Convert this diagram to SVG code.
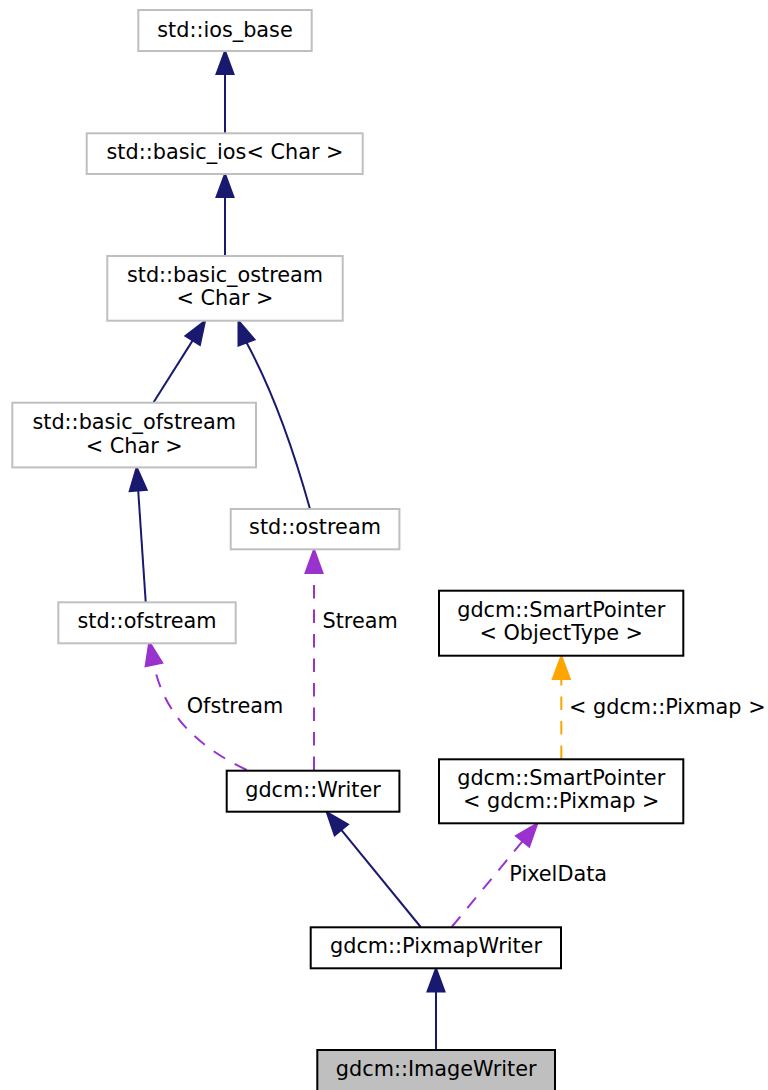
<svg xmlns="http://www.w3.org/2000/svg" width="768" height="1090" viewBox="0 0 768 1090">
<style>
text{font-family:"DejaVu Sans","Liberation Sans",sans-serif;font-size:20.8px;fill:#000}
.n text{text-anchor:middle}
.g{fill:#fff;stroke:#bfbfbf;stroke-width:2}
.b{fill:#fff;stroke:#000;stroke-width:2}
.e{fill:none;stroke-width:2}
.blue{stroke:#191970}
.pur{stroke:#9a32cd;stroke-dasharray:13.5,11}
.org{stroke:#ffa500;stroke-dasharray:13.5,11}
.hb{fill:#191970;stroke:#191970;stroke-width:2}
.hp{fill:#9a32cd;stroke:#9a32cd;stroke-width:2}
.ho{fill:#ffa500;stroke:#ffa500;stroke-width:2}
</style>
<rect width="768" height="1090" fill="#fff"/>
<g id="connectors">
<path class="e blue" d="M225,133 L225,74"/>
<polygon class="hb" points="225,51 216.5,74 233.5,74"/>
<path class="e blue" d="M225,256 L225,197"/>
<polygon class="hb" points="225,174 216.5,197 233.5,197"/>
<path class="e blue" d="M153.3,402.7 L192.7,340.4"/>
<polygon class="hb" points="205,321 199.9,344.9 185.5,335.9"/>
<path class="e blue" d="M310,509 C295,455 275,395 246.5,342.5"/>
<polygon class="hb" points="238.5,321 254.5,339.5 238.5,345.5"/>
<path class="e blue" d="M145.7,602 L138.2,490.5"/>
<polygon class="hb" points="136.7,467.5 146.7,489.9 129.7,491.1"/>
<path class="e pur" d="M314,770 L314,573"/>
<polygon class="hp" points="314,549.5 305.5,573 322.5,573"/>
<text x="322.5" y="627.5">Stream</text>
<path class="e pur" d="M246.7,770 C205,750 165,720 153.9,664.5"/>
<polygon class="hp" points="149.3,642 162.2,662.8 145.6,666.2"/>
<text x="186.7" y="712.7">Ofstream</text>
<path class="e org" d="M561.3,759 L561.3,679"/>
<polygon class="ho" points="561.3,656 552.8,679 569.8,679"/>
<text x="569" y="713.5">&lt; gdcm::Pixmap &gt;</text>
<path class="e blue" d="M420.7,927 L341.3,829.8"/>
<polygon class="hb" points="326.7,812 347.9,824.4 334.7,835.2"/>
<path class="e pur" d="M451.7,927 L522.6,841.2"/>
<polygon class="hp" points="537.3,823.5 529.2,846.6 516,835.8"/>
<text x="509.3" y="880.7">PixelData</text>
<path class="e blue" d="M436,1050 L436,991.5"/>
<polygon class="hb" points="436,968.5 427.5,991.5 444.5,991.5"/>
</g>
<g id="ios_base" class="n"><rect class="g" x="138.3" y="10" width="173.4" height="41"/><text x="225" y="37">std::ios_base</text></g>
<g id="basic_ios" class="n"><rect class="g" x="86.7" y="133.3" width="276" height="40.7"/><text x="225" y="159">std::basic_ios&lt; Char &gt;</text></g>
<g id="basic_ostream" class="n"><rect class="g" x="107.3" y="256" width="235.4" height="64.7"/><text x="225" y="282">std::basic_ostream</text><text x="225" y="305">&lt; Char &gt;</text></g>
<g id="basic_ofstream" class="n"><rect class="g" x="12.3" y="402.7" width="243.7" height="64.7"/><text x="134.2" y="429">std::basic_ofstream</text><text x="134.2" y="452.5">&lt; Char &gt;</text></g>
<g id="ostream" class="n"><rect class="g" x="230.7" y="509" width="168.7" height="40.3"/><text x="315" y="534.3">std::ostream</text></g>
<g id="ofstream" class="n"><rect class="g" x="58.3" y="602.3" width="177.4" height="41"/><text x="147" y="628">std::ofstream</text></g>
<g id="sp_objecttype" class="n"><rect class="b" x="439" y="590.7" width="244.3" height="65"/><text x="561.2" y="617">gdcm::SmartPointer</text><text x="561.2" y="640">&lt; ObjectType &gt;</text></g>
<g id="writer" class="n"><rect class="b" x="226.7" y="770.7" width="172.7" height="41"/><text x="313" y="797">gdcm::Writer</text></g>
<g id="sp_pixmap" class="n"><rect class="b" x="439" y="759.3" width="244.3" height="64"/><text x="561.2" y="785">gdcm::SmartPointer</text><text x="561.2" y="808.3">&lt; gdcm::Pixmap &gt;</text></g>
<g id="pixmapwriter" class="n"><rect class="b" x="310.7" y="927.3" width="250.3" height="41"/><text x="436" y="953">gdcm::PixmapWriter</text></g>
<g id="imagewriter" class="n"><rect x="317.3" y="1050" width="237.7" height="42" fill="#bfbfbf" stroke="#000" stroke-width="2"/><text x="436.2" y="1076">gdcm::ImageWriter</text></g>
</svg>
